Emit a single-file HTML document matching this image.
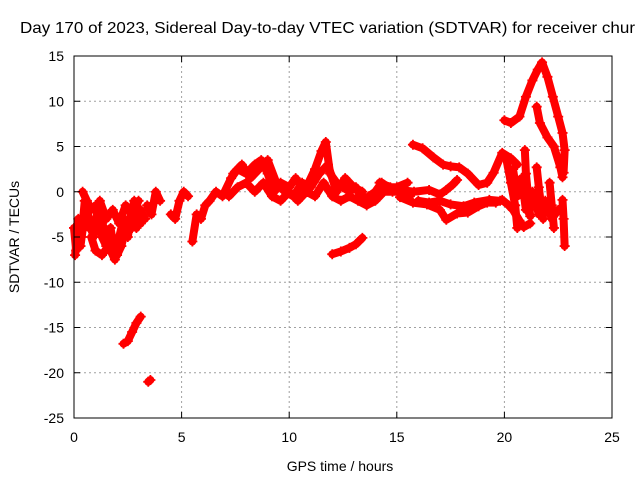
<!DOCTYPE html>
<html><head><meta charset="utf-8"><style>
html,body{margin:0;padding:0;background:#fff;}
svg{display:block;font-family:"Liberation Sans",sans-serif;}
</style></head><body>
<svg id="chart" width="640" height="480">
<text x="20" y="33" font-size="16" textLength="615" lengthAdjust="spacingAndGlyphs" fill="#000">Day 170 of 2023, Sidereal Day-to-day VTEC variation (SDTVAR) for receiver chur</text>
<text transform="translate(19,237) rotate(-90)" text-anchor="middle" font-size="14">SDTVAR / TECUs</text>
<text x="340" y="471" text-anchor="middle" font-size="14">GPS time / hours</text>
<g id="grid"></g><g id="marks"></g><g id="axes"></g>
</svg>
<script>
const xTicks=[0,5,10,15,20,25];
const yTicks=[15,10,5,0,-5,-10,-15,-20,-25];
// traces: hours and SDTVAR values
const hA=[0,0.1,0.2,0.35,0.5,0.7,0.9,1.1,1.3,1.5,1.7,1.9,2.1,2.3,2.5,2.7,2.9,3.1,3.3];
const vA=[-4,-6.5,-3,-5,-1,-3,-5,-2,-5,-6,-4,-7,-5,-3,-5,-2,-4,-2,-3];
const hB=[0.4,0.6,0.8,1.0,1.2,1.4,1.6,1.8,2.0,2.2,2.4,2.6,2.8,3.0,3.2];
const vB=[0,-1,-2,-1.5,-3,-4,-5.5,-6,-7,-6,-4,-3,-1,-2,-2.5];
const hC=[0.8,1.0,1.3,1.6,1.9,2.1,2.3,2.5,2.7,2.9,3.1];
const vC=[-5,-6.5,-7,-6,-7.5,-6,-4.5,-3.5,-4,-3,-3.5];
const hC2=[0.05,0.15,0.3,0.5,0.7,1.0,1.2,1.5,1.8,2.1,2.4,2.7,3.0];
const vC2=[-7,-5,-6,-2.5,-4,-3.5,-1,-3,-2,-3.5,-1.5,-2.5,-1];
const hD=[3.4,3.6,3.8,4.0];
const vD=[-1.5,-2.5,0,-1];
const hE=[4.5,4.7,4.9,5.1,5.3];
const vE=[-2.5,-3,-1,0,-0.5];
const hF=[5.5,5.7,5.9,6.1,6.3,6.6,6.9];
const vF=[-5.5,-2.5,-3,-1.5,-1,0,-0.5];
const hG=[7.0,7.3,7.6,8.0,8.4,8.7,9.0,9.3,9.6,10.0,10.3,10.6,10.9,11.2,11.5,11.7,11.9,12.2,12.5,12.8,13.1,13.4,13.7,14.0,14.3,14.6,15.0,15.5];
const vG=[0,1.5,2.5,2,3,3.5,2,0,1,0.5,1.5,0.5,1,2.5,4.5,5.5,2,1,0.5,0,0.5,-1,-0.5,0,1,0.5,0.5,1];
const hH=[7.2,7.6,8.0,8.4,8.8,9.2,9.6,10.0,10.4,10.8,11.2,11.6,12.0,12.4,12.8,13.2,13.6,14.0,14.4,14.8,15.2,15.6];
const vH=[-0.5,0.5,1,0,1,-0.5,-1,0,-1,0,-0.5,1,-0.5,-1,-0.5,-1,-1.5,-1,0,0,0,-0.5];
const hH2=[7.4,7.8,8.2,8.6,9.0,9.4,9.8,10.2,10.6,11.0,11.4,11.8,12.2,12.6,13.0,13.4];
const vH2=[2,3,1.5,2.5,3.5,1,0,-0.5,1,0.5,2,3,0,1.5,0.5,0];
const hI=[2.3,2.5,2.7,2.9,3.1];
const vI=[-16.8,-16.5,-15.5,-14.5,-13.8];
const hJ=[3.45,3.55];
const vJ=[-21,-20.8];
const hK=[12.0,12.4,12.8,13.1,13.4];
const vK=[-6.9,-6.6,-6.2,-5.8,-5.1];
const hL=[15.75,16.2,16.7,17.15,17.5,17.9,18.3,18.8,19.2,19.5,19.9,20.3,20.6];
const vL=[5.2,4.8,3.8,3.0,2.8,2.7,2.0,0.75,1.0,2.1,4.3,3.7,3.0];
const hM=[15.15,15.75,16.4,17.0,17.3,17.8,18.3,18.8,19.2,19.6,19.9,20.2,20.4,20.7,20.9,21.2];
const vM=[-0.6,-1.2,-1.4,-2.0,-3.1,-2.4,-2.3,-1.6,-1.2,-1.2,-0.9,-1.5,-2.0,-3.2,-3.9,-3.5];
const hN=[14.2,14.7,15.15,15.8,16.5,17.0,17.3,17.6,17.8];
const vN=[1.0,0.5,0.2,0.0,0.2,-0.3,0.2,0.8,1.3];
const hO=[16.0,16.5,17.0,17.5,18.1,18.6,19.3,19.8];
const vO=[-1.0,-1.2,-1.0,-1.4,-1.6,-1.2,-0.9,-1.0];
const hP=[20.0,20.3,20.7,21.0,21.3,21.55,21.75,22.0,22.25,22.5,22.7,22.8,22.75];
const vP=[7.9,7.6,8.3,10.5,12.3,13.5,14.3,12.7,10.5,8.3,6.5,4.6,2.1];
const hQ=[21.5,21.65,22.0,22.3,22.6,22.7];
const vQ=[9.4,7.6,6.0,5.0,2.7,1.6];
const hR=[20.95,21.0,21.1,21.2];
const vR=[4.6,2.0,-0.5,-2.7];
const hS=[21.5,21.6,21.7,21.8];
const vS=[2.7,0.5,-1.5,-3.0];
const hT=[22.1,22.2,22.3];
const vT=[1.0,-1.5,-4.0];
const hU=[22.7,22.75,22.8];
const vU=[-0.9,-3.0,-6.0];
const hV=[20.1,20.3,20.5,20.6];
const vV=[3.5,1.0,-1.5,-4.0];
const hW=[20.4,20.6,20.8,21.0,21.3,21.6,21.9,22.2,22.5];
const vW=[2.5,-0.5,1.5,-2,0,-2.5,-1,-3,-2];
const traces=[[hA,vA],[hB,vB],[hC,vC],[hC2,vC2],[hD,vD],[hE,vE],[hF,vF],[hG,vG],[hH,vH],[hH2,vH2],[hI,vI],[hJ,vJ],[hK,vK],[hL,vL],[hM,vM],[hN,vN],[hO,vO],[hP,vP],[hQ,vQ],[hR,vR],[hS,vS],[hT,vT],[hU,vU],[hV,vV],[hW,vW]];

const L=74,R=612,T=56,B=418;
const xS=h=>L+(h-0)/25*(R-L);
const yS=v=>T+(15-v)/40*(B-T);
const NS='http://www.w3.org/2000/svg';
function mk(tag,attrs,parent){const e=document.createElementNS(NS,tag);for(const k in attrs)e.setAttribute(k,attrs[k]);parent.appendChild(e);return e;}
const grid=document.getElementById('grid'),marks=document.getElementById('marks'),axes=document.getElementById('axes');
xTicks.forEach(t=>{const x=xS(t);
 if(t>0&&t<25){const g=mk('line',{x1:x,x2:x,y1:T,y2:B,stroke:'#a0a0a0','stroke-dasharray':'2,3','stroke-width':1},grid);
 
 }
 mk('line',{x1:x,x2:x,y1:B,y2:B-6,stroke:'#000'},axes);
 mk('line',{x1:x,x2:x,y1:T,y2:T+6,stroke:'#000'},axes);
 const l=mk('text',{x:x,y:B+24,'text-anchor':'middle','font-size':14},axes);l.textContent=t;
 
 
});
yTicks.forEach(t=>{const y=yS(t);
 if(t>-25&&t<15){const g=mk('line',{x1:L,x2:R,y1:y,y2:y,stroke:'#a0a0a0','stroke-dasharray':'2,3','stroke-width':1},grid);
 
 }
 mk('line',{x1:L,x2:L+6,y1:y,y2:y,stroke:'#000'},axes);
 mk('line',{x1:R,x2:R-6,y1:y,y2:y,stroke:'#000'},axes);
 const l=mk('text',{x:L-10,y:y+5,'text-anchor':'end','font-size':14},axes);l.textContent=t;
 
 
});
const fr=mk('rect',{x:L,y:T,width:R-L,height:B-T,fill:'none',stroke:'#000','stroke-width':1},axes);


traces.forEach(([hs,vs])=>{
 const pts=hs.map((h,i)=>xS(h)+','+yS(vs[i])).join(' ');
 const pl=mk('polyline',{points:pts,fill:'none',stroke:'#f00','stroke-width':8,'stroke-linejoin':'round','stroke-linecap':'round'},marks);
 
 
 hs.forEach((h,i)=>{const x=xS(h),y=yS(vs[i]);
  const p=mk('path',{d:`M${x-5},${y}H${x+5}M${x},${y-5}V${y+5}`,stroke:'#f00','stroke-width':1.8},marks);
  
  
 });
});
</script>
</body></html>
